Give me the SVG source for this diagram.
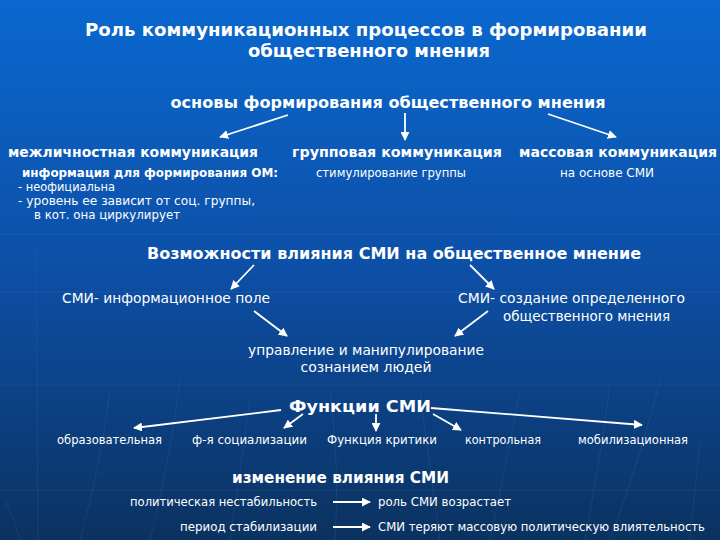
<svg xmlns="http://www.w3.org/2000/svg" width="720" height="540" viewBox="0 0 720 540">
<defs>
<linearGradient id="bg" x1="0" y1="0" x2="0" y2="1">
<stop offset="0" stop-color="#0a68cf"/>
<stop offset="0.5" stop-color="#0d4fa6"/>
<stop offset="1" stop-color="#0b3260"/>
</linearGradient>
<marker id="ah" viewBox="0 0 10 10" refX="9" refY="5" markerWidth="5" markerHeight="5" orient="auto" markerUnits="strokeWidth">
<path d="M0,0 L10,5 L0,10 z" fill="#ffffff"/>
</marker>
<style>
text{fill:#ffffff;font-family:"DejaVu Sans","Noto Sans",sans-serif}
.b{font-weight:bold}
.c{text-anchor:middle}
.arr{stroke:#ffffff;stroke-width:1.8;fill:none;marker-end:url(#ah)}
.bgl{stroke:#6fa0e0;stroke-width:1;fill:none;opacity:0.12}
</style>
</defs>
<rect width="720" height="540" fill="url(#bg)"/>
<g id="background-lines">
<path class="bgl" d="M0 234 H720 M0 292 H720 M0 385 H720 M0 490 H720"/>
<path class="bgl" d="M36 250 L38 540 M110 390 Q100 470 80 540 M180 380 Q170 460 150 540 M250 400 Q240 470 230 540 M330 390 Q340 470 335 540 M420 390 Q430 470 440 540 M520 390 Q505 470 490 540 M610 385 Q600 460 585 540 M660 380 Q640 460 610 540 M700 440 L690 540 M5 500 Q15 520 20 540"/>
</g>
<g id="title">
<text class="b c" x="366" y="36" font-size="17" textLength="562" lengthAdjust="spacingAndGlyphs">Роль коммуникационных процессов в формировании</text>
<text class="b c" x="369" y="57" font-size="17" textLength="242" lengthAdjust="spacingAndGlyphs">общественного мнения</text>
</g>
<g id="osnovy">
<text class="b c" x="388" y="108" font-size="15" textLength="435" lengthAdjust="spacingAndGlyphs">основы формирования общественного мнения</text>
</g>
<g id="mezhlichnostnaya">
<text class="b" x="8" y="157" font-size="14" textLength="250" lengthAdjust="spacingAndGlyphs">межличностная коммуникация</text>
<text class="b" x="22" y="177" font-size="12" textLength="256" lengthAdjust="spacingAndGlyphs">информация для формирования ОМ:</text>
<text x="18" y="191" font-size="12.5" textLength="97" lengthAdjust="spacingAndGlyphs">- неофициальна</text>
<text x="18" y="205" font-size="12.5" textLength="237" lengthAdjust="spacingAndGlyphs">- уровень ее зависит от соц. группы,</text>
<text x="34" y="219" font-size="12.5" textLength="146" lengthAdjust="spacingAndGlyphs">в кот. она циркулирует</text>
</g>
<g id="gruppovaya">
<text class="b" x="292" y="157" font-size="14" textLength="210" lengthAdjust="spacingAndGlyphs">групповая коммуникация</text>
<text x="316" y="177" font-size="12.5" textLength="150" lengthAdjust="spacingAndGlyphs">стимулирование группы</text>
</g>
<g id="massovaya">
<text class="b" x="519" y="157" font-size="14" textLength="198" lengthAdjust="spacingAndGlyphs">массовая коммуникация</text>
<text x="560" y="177" font-size="12.5" textLength="94" lengthAdjust="spacingAndGlyphs">на основе СМИ</text>
</g>
<g id="vozmozhnosti">
<text class="b c" x="394" y="259" font-size="15" textLength="494" lengthAdjust="spacingAndGlyphs">Возможности влияния СМИ на общественное мнение</text>
</g>
<g id="info-pole">
<text x="62" y="303" font-size="13.5" textLength="208" lengthAdjust="spacingAndGlyphs">СМИ- информационное поле</text>
</g>
<g id="sozdanie">
<text x="458" y="303" font-size="13.5" textLength="227" lengthAdjust="spacingAndGlyphs">СМИ- создание определенного</text>
<text x="503" y="321" font-size="13.5" textLength="167" lengthAdjust="spacingAndGlyphs">общественного мнения</text>
</g>
<g id="upravlenie">
<text class="c" x="366" y="355" font-size="13.5" textLength="236" lengthAdjust="spacingAndGlyphs">управление и манипулирование</text>
<text class="c" x="366" y="372" font-size="13.5" textLength="131" lengthAdjust="spacingAndGlyphs">сознанием людей</text>
</g>
<g id="funkcii">
<text class="b" x="289" y="412" font-size="16.5" textLength="142" lengthAdjust="spacingAndGlyphs">Функции СМИ</text>
</g>
<g id="f-items">
<text x="57" y="444" font-size="12.5" textLength="105" lengthAdjust="spacingAndGlyphs">образовательная</text>
<text x="192" y="444" font-size="12.5" textLength="115" lengthAdjust="spacingAndGlyphs">ф-я социализации</text>
<text x="327" y="444" font-size="12.5" textLength="110" lengthAdjust="spacingAndGlyphs">Функция критики</text>
<text x="465" y="444" font-size="12.5" textLength="76" lengthAdjust="spacingAndGlyphs">контрольная</text>
<text x="578" y="444" font-size="12.5" textLength="110" lengthAdjust="spacingAndGlyphs">мобилизационная</text>
</g>
<g id="izmenenie">
<text class="b" x="232" y="483" font-size="15" textLength="217" lengthAdjust="spacingAndGlyphs">изменение влияния СМИ</text>
<text x="130" y="506" font-size="12.5" textLength="187" lengthAdjust="spacingAndGlyphs">политическая нестабильность</text>
<text x="378" y="506" font-size="12.5" textLength="133" lengthAdjust="spacingAndGlyphs">роль СМИ возрастает</text>
<text x="180" y="531" font-size="12" textLength="137" lengthAdjust="spacingAndGlyphs">период стабилизации</text>
<text x="378" y="531" font-size="12" textLength="327" lengthAdjust="spacingAndGlyphs">СМИ теряют массовую политическую влиятельность</text>
</g>
<g id="connectors">
<line class="arr" x1="288" y1="115" x2="220" y2="137"/>
<line class="arr" x1="405" y1="113" x2="405" y2="140"/>
<line class="arr" x1="548" y1="114" x2="616" y2="137"/>
<line class="arr" x1="254" y1="265" x2="231" y2="289"/>
<line class="arr" x1="470" y1="265" x2="494" y2="289"/>
<line class="arr" x1="254" y1="311" x2="287" y2="336"/>
<line class="arr" x1="488" y1="311" x2="455" y2="336"/>
<line class="arr" x1="281" y1="410" x2="134" y2="428"/>
<line class="arr" x1="303" y1="414" x2="284" y2="428"/>
<line class="arr" x1="376" y1="414" x2="376" y2="431"/>
<line class="arr" x1="433" y1="414" x2="461" y2="430"/>
<line class="arr" x1="431" y1="408" x2="642" y2="425"/>
<line class="arr" x1="333" y1="502" x2="370" y2="502"/>
<line class="arr" x1="333" y1="527" x2="370" y2="527"/>
</g>
</svg>
